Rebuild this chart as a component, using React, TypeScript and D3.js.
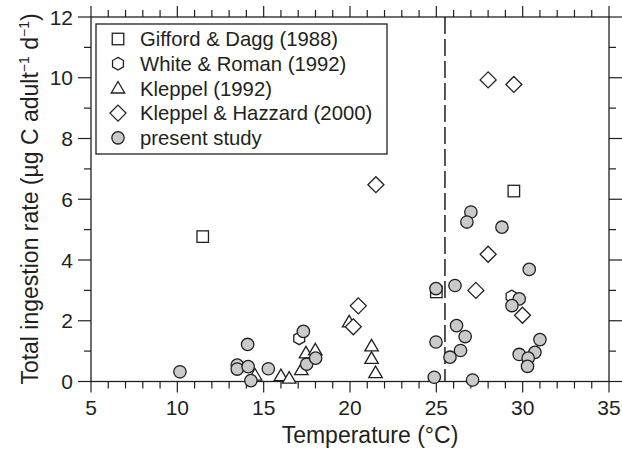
import React from "react";
import * as d3 from "d3";

const giffordT = [11.47, 25.0, 29.49];
const giffordV = [4.77, 2.95, 6.27];
const whiteT = [17.06, 29.36];
const whiteV = [1.42, 2.8];
const kleppelT = [14.5, 16.0, 16.48, 17.18, 17.45, 17.99, 19.95, 21.25, 21.25, 21.48];
const kleppelV = [0.2, 0.18, 0.1, 0.38, 0.93, 1.03, 1.95, 1.16, 0.75, 0.28];
const hazzardT = [21.5, 20.48, 20.19, 27.29, 28.0, 29.99, 28.0, 29.49];
const hazzardV = [6.48, 2.49, 1.8, 3.0, 4.19, 2.18, 9.93, 9.78];
const presentT = [10.15, 14.07, 13.47, 13.47, 14.1, 14.26, 15.27, 17.49, 18.01, 17.3, 24.98, 24.98, 24.88, 26.08, 27.0, 26.77, 26.17, 26.67, 26.4, 25.79, 27.1, 28.8, 30.38, 29.8, 29.38, 31.0, 30.71, 29.8, 30.32, 30.28];
const presentV = [0.32, 1.22, 0.54, 0.41, 0.49, 0.03, 0.42, 0.57, 0.77, 1.65, 3.06, 1.3, 0.14, 3.16, 5.58, 5.25, 1.84, 1.48, 1.02, 0.8, 0.05, 5.08, 3.69, 2.72, 2.5, 1.38, 0.96, 0.89, 0.77, 0.5];
const xTicks = [5, 10, 15, 20, 25, 30, 35];
const yTicks = [0, 2, 4, 6, 8, 10, 12];
const legendLabels = ["Gifford & Dagg (1988)", "White & Roman (1992)", "Kleppel (1992)", "Kleppel & Hazzard (2000)", "present study"];
const thresholdT = 25.5;

const W = 622, H = 451;
const L = 91, R = 609, T = 17, B = 381.5;
const FONT = "'Liberation Sans', Arial, Helvetica, sans-serif";
const INK = "#231f20";

const x = d3.scaleLinear().domain([5, 35]).range([L, R]);
const y = d3.scaleLinear().domain([0, 12]).range([B, T]);

type Shape = "square" | "hex" | "tri" | "diamond" | "circle";

function Marker({ shape, cx, cy }: { shape: Shape; cx: number; cy: number }) {
  const sw = 1.3;
  if (shape === "square") {
    const s = 11.5;
    return <rect x={cx - s / 2} y={cy - s / 2} width={s} height={s} fill="#fff" stroke={INK} strokeWidth={sw} />;
  }
  if (shape === "circle") {
    return <circle cx={cx} cy={cy} r={6.2} fill="#c9cacc" stroke={INK} strokeWidth={sw} />;
  }
  if (shape === "diamond") {
    const r = 8;
    const pts = [[cx, cy - r], [cx + r, cy], [cx, cy + r], [cx - r, cy]];
    return <polygon points={pts.map((p) => p.join(",")).join(" ")} fill="#fff" stroke={INK} strokeWidth={sw} />;
  }
  if (shape === "tri") {
    const h = 11.5, w = 13.5;
    const pts = [[cx, cy - h * 0.6], [cx + w / 2, cy + h * 0.4], [cx - w / 2, cy + h * 0.4]];
    return <polygon points={pts.map((p) => p.join(",")).join(" ")} fill="#fff" stroke={INK} strokeWidth={sw} />;
  }
  const r = 6.3;
  const pts = d3.range(6).map((i) => {
    const a = (Math.PI / 3) * i - Math.PI / 2;
    return [cx + r * Math.cos(a), cy + r * Math.sin(a)];
  });
  return <polygon points={pts.map((p) => p.join(",")).join(" ")} fill="#fff" stroke={INK} strokeWidth={sw} />;
}

const series: { shape: Shape; t: number[]; v: number[] }[] = [
  { shape: "square", t: giffordT, v: giffordV },
  { shape: "hex", t: whiteT, v: whiteV },
  { shape: "tri", t: kleppelT, v: kleppelV },
  { shape: "diamond", t: hazzardT, v: hazzardV },
  { shape: "circle", t: presentT, v: presentV },
];

export default function App() {
  const xMinor = d3.range(5, 36, 1);
  const yMinor = d3.range(0, 13, 1);
  const legendShapes: Shape[] = ["square", "hex", "tri", "diamond", "circle"];
  return (
    <svg width={W} height={H} style={{ position: "absolute", left: 0, top: 0, background: "#fff" }} fontFamily={FONT}>
      <rect x={0} y={0} width={W} height={H} fill="#fff" />
      {xMinor.map((t) => {
        const major = t % 5 === 0;
        const len = major ? 11 : 7;
        return (
          <g key={"xt" + t} stroke={INK} strokeWidth={1.2}>
            <line x1={x(t)} x2={x(t)} y1={B} y2={B + len} />
            <line x1={x(t)} x2={x(t)} y1={T} y2={T - len} />
          </g>
        );
      })}
      {yMinor.map((v) => {
        const major = v % 2 === 0;
        const len = major ? 13 : 7;
        return (
          <g key={"yt" + v} stroke={INK} strokeWidth={1.2}>
            <line x1={L} x2={L - len} y1={y(v)} y2={y(v)} />
            <line x1={R} x2={R + len} y1={y(v)} y2={y(v)} />
          </g>
        );
      })}
      <rect x={L} y={T} width={R - L} height={B - T} fill="none" stroke={INK} strokeWidth={1.3} />
      {xTicks.map((t) => (
        <text key={"xl" + t} x={x(t)} y={415} textAnchor="middle" fontSize={21} fill={INK}>{t}</text>
      ))}
      {yTicks.map((v) => (
        <text key={"yl" + v} x={73} y={y(v) + 7.5} textAnchor="end" fontSize={21} fill={INK}>{v}</text>
      ))}
      <text x={370} y={443} textAnchor="middle" fontSize={23} fill={INK}>Temperature (°C)</text>
      <text transform={`translate(38,199) rotate(-90)`} textAnchor="middle" fontSize={23} fill={INK}>
        Total ingestion rate (µg C adult
        <tspan fontSize={14} dy={-9}>−1</tspan>
        <tspan dy={9}> d</tspan>
        <tspan fontSize={14} dy={-9}>−1</tspan>
        <tspan dy={9}>)</tspan>
      </text>
      <line x1={x(thresholdT)} x2={x(thresholdT)} y1={T} y2={B} stroke={INK} strokeWidth={1.5} strokeDasharray="17,5" />
      <rect x={96} y={24} width={291} height={130} fill="#fff" stroke={INK} strokeWidth={1.3} />
      {legendLabels.map((lab, i) => (
        <g key={lab}>
          <Marker shape={legendShapes[i]} cx={118} cy={39 + i * 24.7} />
          <text x={140} y={39 + i * 24.7 + 7.3} fontSize={20.3} fill={INK}>{lab}</text>
        </g>
      ))}
      {series.map((s) => (
        <g key={s.shape}>
          {s.t.map((t, i) => (
            <Marker key={i} shape={s.shape} cx={x(t)} cy={y(s.v[i])} />
          ))}
        </g>
      ))}
    </svg>
  );
}
